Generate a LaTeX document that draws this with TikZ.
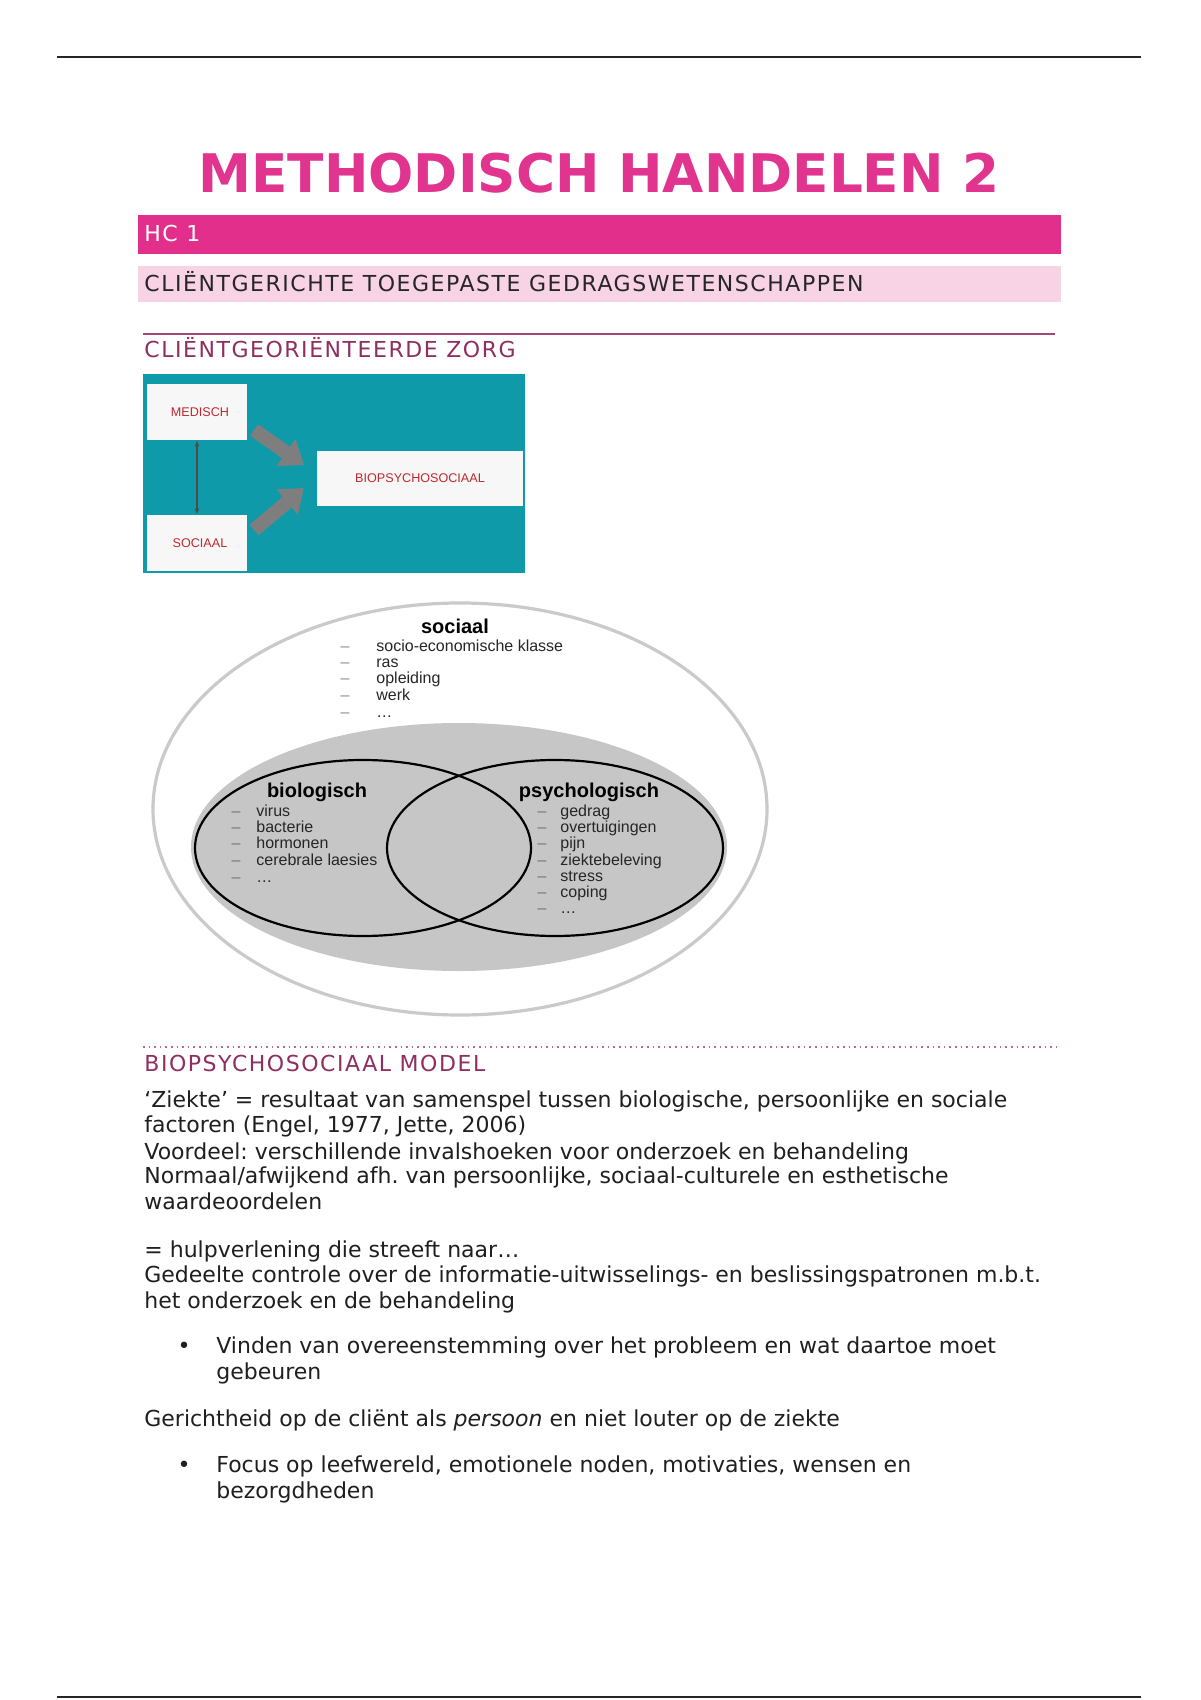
\documentclass[tikz,border=0pt]{standalone}
\usepackage{fontspec}
\setmainfont{DejaVu Sans}
\newfontfamily\spacedfont[LetterSpace=7]{DejaVu Sans}
\newfontfamily\arialfont{Liberation Sans}
\usetikzlibrary{arrows.meta}
\frenchspacing
\definecolor{titlepink}{HTML}{E0348F}
\definecolor{barpink}{HTML}{E22F8C}
\definecolor{lightpink}{HTML}{F8D2E5}
\definecolor{headpurple}{HTML}{8E2F60}
\definecolor{rulepurple}{HTML}{A3467A}
\definecolor{tealbg}{HTML}{0E9AA8}
\definecolor{boxred}{HTML}{C0282E}
\definecolor{venngray}{HTML}{C6C6C6}
\definecolor{outergray}{HTML}{CACACA}
\definecolor{arrowgray}{HTML}{7E7E7E}
\tikzset{
  body/.style={anchor=mid west, inner sep=0pt, font=\fontsize{11}{13}\selectfont, text=black!88},
  caphead/.style={anchor=base west, inner sep=0pt, font=\spacedfont\fontsize{11}{13}\selectfont},
  whitebox/.style={fill=white!97!black, draw=none, inner sep=0pt},
  boxlabel/.style={font=\arialfont\fontsize{6.3}{7}\selectfont, text=boxred},
  bigarrow/.style={draw=arrowgray, line width=7pt, -{Triangle[length=11pt,width=16pt]}},
  vhead/.style={font=\arialfont\bfseries\fontsize{10}{11}\selectfont, inner sep=0pt, anchor=mid},
  vitem/.style={font=\arialfont\fontsize{8}{9}\selectfont, inner sep=0pt, anchor=mid west, text=black!85},
  vdash/.style={font=\arialfont\fontsize{8}{9}\selectfont, inner sep=0pt, anchor=mid, text=black!45},
  bulletmark/.style={anchor=mid, inner sep=0pt, font=\fontsize{11}{13}\selectfont, text=black!88}
}
\begin{document}
\begin{tikzpicture}[x=0.5pt,y=-0.5pt]
\useasboundingbox[fill=white] (0,0) rectangle (1200,1700);
% page rules
\draw[line width=1.2pt, black!85] (57,57) -- (1141,57);
\draw[line width=1.2pt, black!85] (57,1697) -- (1141,1697);
% title
\node[anchor=base, inner sep=0pt, font=\bfseries\fontsize{26.6}{30}\selectfont, text=titlepink] (title) at (599,193) {METHODISCH HANDELEN 2};
% bars
\fill[barpink] (138,215) rectangle (1061,254);
\node[caphead, text=white] (hc) at (144,242) {HC 1};
\fill[lightpink] (138,266) rectangle (1061,302);
\node[caphead, text=black!85] (sub) at (144,292) {CLIËNTGERICHTE TOEGEPASTE GEDRAGSWETENSCHAPPEN};
\draw[rulepurple, line width=0.8pt] (143,334) -- (1055,334);
\node[caphead, text=headpurple] (h1) at (144,358) {CLIËNTGEORIËNTEERDE ZORG};
% teal figure
\fill[tealbg] (143,374) rectangle (525,573);
\node[whitebox, minimum width=50pt, minimum height=28pt] (med) at (197,412) {};
\node[boxlabel] at ([xshift=1.5pt]med.center) {MEDISCH};
\node[whitebox, minimum width=50pt, minimum height=28pt] (soc) at (197,543) {};
\node[boxlabel] at ([xshift=1.5pt]soc.center) {SOCIAAL};
\node[whitebox, minimum width=103pt, minimum height=27.5pt] (bio) at (420,478.5) {};
\node[boxlabel] at (bio.center) {BIOPSYCHOSOCIAAL};
\draw[black!70, line width=0.6pt, {Latex[length=3pt,width=2.5pt]}-{Latex[length=3pt,width=2.5pt]}] (med.south) -- (soc.north);
\coordinate (a1s) at (254,430);
\coordinate (a1e) at (304,465);
\coordinate (a2s) at (254,530);
\coordinate (a2e) at (304,488);
\draw[bigarrow] (a1s) -- (a1e);
\draw[bigarrow] (a2s) -- (a2e);
% venn
\draw[outergray, line width=1.6pt] (460,809) ellipse [x radius=307, y radius=206];
\fill[venngray] (459,847) ellipse [x radius=268, y radius=124];
\draw[black, line width=1.1pt] (363,848) ellipse [x radius=168, y radius=88];
\draw[black, line width=1.1pt] (555,848) ellipse [x radius=168, y radius=88];
\node[vhead] (vs) at (455,628) {sociaal};
\foreach \t/\y in {socio-economische klasse/646, ras/662, opleiding/678, werk/695, \dots/712}{
  \node[vdash] at (345,\y) {–};
  \node[vitem] at (376,\y) {\t};
}
\node[vhead] (vb) at (317,792) {biologisch};
\foreach \t/\y in {virus/811, bacterie/827, hormonen/843, cerebrale laesies/860, \dots/877}{
  \node[vdash, text=black!55] at (236,\y) {–};
  \node[vitem] at (256,\y) {\t};
}
\node[vhead] (vp) at (589,792) {psychologisch};
\foreach \t/\y in {gedrag/811, overtuigingen/827, pijn/843, ziektebeleving/860, stress/876, coping/892, \dots/908}{
  \node[vdash, text=black!55] at (542,\y) {–};
  \node[vitem] at (560,\y) {\t};
}
% second section
\draw[rulepurple!80, line width=0.8pt, dotted] (143,1047) -- (1057,1047);
\node[caphead, text=headpurple] (h2) at (144,1071) {BIOPSYCHOSOCIAAL MODEL};
\node[body] (l1) at (144,1102) {‘Ziekte’ = resultaat van samenspel tussen biologische, persoonlijke en sociale};
\node[body] (l2) at (144,1127) {factoren (Engel, 1977, Jette, 2006)};
\node[body] (l3) at (144,1154) {Voordeel: verschillende invalshoeken voor onderzoek en behandeling};
\node[body] (l4) at (144,1178) {Normaal/afwijkend afh. van persoonlijke, sociaal-culturele en esthetische};
\node[body] (l5) at (144,1204) {waardeoordelen};
\node[body] (l6) at (144,1252) {= hulpverlening die streeft naar…};
\node[body] (l7) at (144,1277) {Gedeelte controle over de informatie-uitwisselings- en beslissingspatronen m.b.t.};
\node[body] (l8) at (144,1303) {het onderzoek en de behandeling};
\node[bulletmark] (b1) at (184,1348) {•};
\node[body] (l9) at (216,1348) {Vinden van overeenstemming over het probleem en wat daartoe moet};
\node[body] (l10) at (216,1374) {gebeuren};
\node[body] (l11) at (144,1421) {Gerichtheid op de cliënt als \textit{persoon} en niet louter op de ziekte};
\node[bulletmark] (b2) at (184,1467) {•};
\node[body] (l12) at (216,1467) {Focus op leefwereld, emotionele noden, motivaties, wensen en};
\node[body] (l13) at (216,1493) {bezorgdheden};
\end{tikzpicture}
\end{document}
